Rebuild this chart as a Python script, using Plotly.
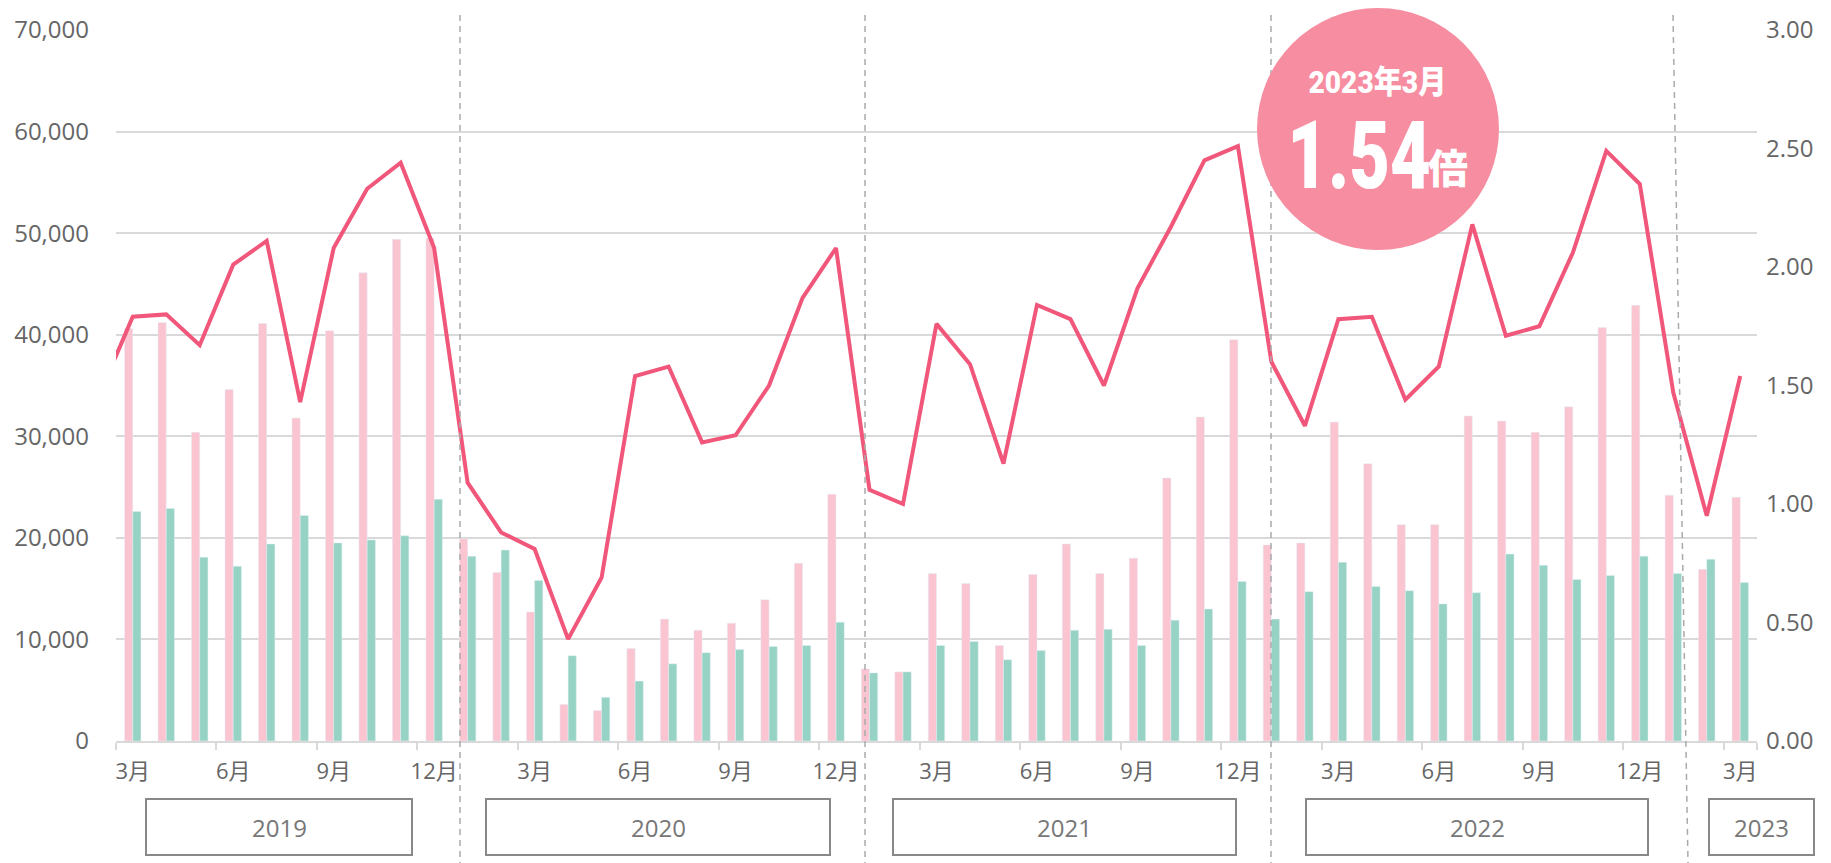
import plotly.graph_objects as go

# ---------------- data ----------------
months = (["2019-02"] +
          [f"2019-{m:02d}" for m in range(3, 13)] +
          [f"2020-{m:02d}" for m in range(1, 13)] +
          [f"2021-{m:02d}" for m in range(1, 13)] +
          [f"2022-{m:02d}" for m in range(1, 13)] +
          [f"2023-{m:02d}" for m in range(1, 4)])
bar_months = months[1:]  # 2019-03 .. 2023-03

openings = [40600, 41200, 30400, 34600, 41100, 31800, 40400, 46100, 49400, 49500,
            19900, 16600, 12700, 3600, 3000, 9100, 12000, 10900, 11600, 13900, 17500, 24300,
            7100, 6800, 16500, 15500, 9400, 16400, 19400, 16500, 18000, 25900, 31900, 39500,
            19300, 19500, 31400, 27300, 21300, 21300, 32000, 31500, 30400, 32900, 40700, 42900,
            24200, 16900, 24000]
seekers = [22600, 22900, 18100, 17200, 19400, 22200, 19500, 19800, 20200, 23800,
           18200, 18800, 15800, 8400, 4300, 5900, 7600, 8700, 9000, 9300, 9400, 11700,
           6700, 6800, 9400, 9800, 8000, 8900, 10900, 11000, 9400, 11900, 13000, 15700,
           12000, 14700, 17600, 15200, 14800, 13500, 14600, 18400, 17300, 15900, 16300, 18200,
           16500, 17900, 15600]
ratio = [1.46,
         1.79, 1.80, 1.67, 2.01, 2.11, 1.43, 2.08, 2.33, 2.44, 2.08,
         1.09, 0.88, 0.81, 0.43, 0.69, 1.54, 1.58, 1.26, 1.29, 1.50, 1.87, 2.08,
         1.06, 1.00, 1.76, 1.59, 1.17, 1.84, 1.78, 1.50, 1.91, 2.17, 2.45, 2.51,
         1.60, 1.33, 1.78, 1.79, 1.44, 1.58, 2.18, 1.71, 1.75, 2.06, 2.49, 2.35,
         1.47, 0.95, 1.54]

tick_months = [m for m in bar_months if int(m[5:]) in (3, 6, 9, 12)]
tick_text = [f"{int(m[5:])}月" for m in tick_months]
years = ["2019", "2020", "2021", "2022", "2023"]
callout_title = "2023年3月"
callout_value = "1.54"
callout_unit = "倍"

# ---------------- styling ----------------
W, H = 1831, 863
L, R, T, B = 116, 74, 30, 122
PW, PH = W - L - R, H - T - B

def px(x):
    return (x - L) / PW

def py(y):
    return (H - B - y) / PH

PINK = "#FAC4D0"
GREEN = "#96D3C4"
LINE = "#F0577A"
CIRCLE = "#F78DA0"
GRID = "#D9D9D9"
TXT = "#666666"
FONT = "Open Sans, Noto Sans CJK JP, sans-serif"
BOLD_FONT = "Roboto, Noto Sans CJK JP, sans-serif"

fig = go.Figure()
fig.add_trace(go.Bar(x=bar_months, y=openings, marker_color=PINK, name="求人数"))
fig.add_trace(go.Bar(x=bar_months, y=seekers, marker_color=GREEN, name="求職者数"))
fig.add_trace(go.Scatter(x=months, y=ratio, yaxis="y2", mode="lines",
                         line=dict(color=LINE, width=4), name="倍率"))

shapes = []
annotations = []

# year boxes
box_px = [(146, 412), (486, 830), (893, 1236), (1306, 1648), (1709, 1814)]
for (x0, x1), yr in zip(box_px, years):
    shapes.append(dict(type="rect", xref="paper", yref="paper",
                       x0=px(x0), x1=px(x1), y0=py(799), y1=py(855),
                       line=dict(color="#888888", width=2), fillcolor="white"))
    annotations.append(dict(xref="paper", yref="paper", x=px((x0 + x1) / 2), y=py(827),
                            text=yr, showarrow=False, xanchor="center", yanchor="middle",
                            font=dict(family=FONT, size=24, color="#777777")))

# dashed year separators
for (xa, xb) in [(460, 460), (865, 865), (1271, 1271), (1673, 1688)]:
    shapes.append(dict(type="line", xref="paper", yref="paper",
                       x0=px(xa), x1=px(xb), y0=py(15), y1=py(863),
                       line=dict(color="#AAAAAA", width=1.5, dash="6px,5px"), layer="above"))

# callout circle
shapes.append(dict(type="circle", xref="paper", yref="paper",
                   x0=px(1257), x1=px(1499), y0=py(250), y1=py(8),
                   fillcolor=CIRCLE, line=dict(width=0), layer="above"))
annotations.append(dict(xref="paper", yref="paper", x=px(1377), y=py(82),
                        text=callout_title, showarrow=False,
                        xanchor="center", yanchor="middle",
                        font=dict(family=BOLD_FONT, size=32, color="white", weight=900)))
annotations.append(dict(xref="paper", yref="paper", x=px(1359), y=py(155),
                        text=callout_value, showarrow=False,
                        xanchor="center", yanchor="middle",
                        font=dict(family=BOLD_FONT, size=95, color="white", weight=900)))
annotations.append(dict(xref="paper", yref="paper", x=px(1448), y=py(169),
                        text=callout_unit, showarrow=False,
                        xanchor="center", yanchor="middle",
                        font=dict(family=BOLD_FONT, size=40, color="white", weight=900)))

fig.update_layout(
    width=W, height=H,
    margin=dict(l=L, r=R, t=T, b=B, pad=0),
    paper_bgcolor="white", plot_bgcolor="white",
    showlegend=False,
    barmode="group", bargap=0.51, bargroupgap=0,
    font=dict(family=FONT, color=TXT),
    xaxis=dict(type="category", categoryorder="array", categoryarray=months,
               range=[0.5, len(months) - 0.5],
               tickmode="array", tickvals=tick_months, ticktext=tick_text,
               tickson="boundaries", ticks="outside", ticklen=7, tickwidth=2,
               tickcolor=GRID, showline=True, linecolor=GRID, linewidth=2,
               showgrid=False, tickangle=0,
               tickfont=dict(size=22, color=TXT), ticklabelstandoff=10),
    yaxis=dict(range=[0, 70000], dtick=10000, tickformat=",", showgrid=True,
               gridcolor=GRID, gridwidth=1.5, zeroline=False, showline=False,
               ticks="", tickfont=dict(size=24, color=TXT), ticklabelstandoff=26),
    yaxis2=dict(range=[0, 3], dtick=0.5, tickformat=".2f", overlaying="y", side="right",
                showgrid=False, zeroline=False, showline=False, ticks="",
                tickfont=dict(size=24, color=TXT), ticklabelstandoff=8),
    shapes=shapes, annotations=annotations,
)

post = """
document.body.style.margin = '0';
document.body.style.padding = '0';
var squeeze = {};
squeeze[%r] = 0.88;
squeeze[%r] = 0.74;
document.querySelectorAll('text.annotation-text').forEach(function (t) {
  var k = squeeze[t.textContent];
  if (k) {
    t.style.transformBox = 'fill-box';
    t.style.transformOrigin = 'center';
    t.style.transform = 'scaleX(' + k + ')';
  }
});
""" % (callout_title, callout_value)

fig.write_html("out.html", post_script=post, config={"displayModeBar": False})
